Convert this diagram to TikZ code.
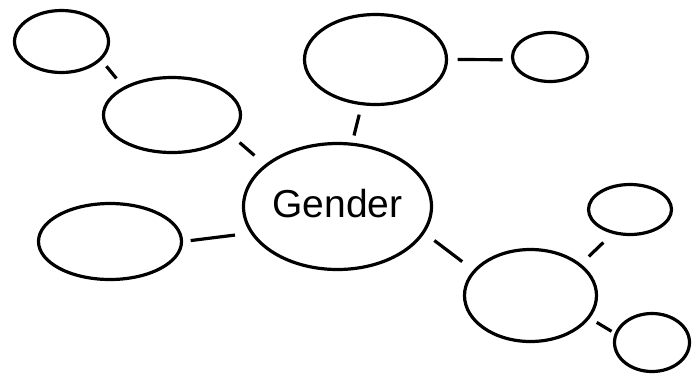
\documentclass[tikz,border=0pt]{standalone}
\usepackage{fontspec}
\setmainfont{Liberation Sans}
\usetikzlibrary{shapes.geometric}

\tikzset{
	bubble/.style={draw, ellipse, line width=3.2pt, inner sep=0pt},
	link/.style={line width=3.2pt}
}

\begin{document}
\begin{tikzpicture}[x=1pt, y=-1pt]
	%%%%% START %%%%%
	\useasboundingbox (0, 0) rectangle (693, 376);

	% the centre
	\node[bubble, minimum width=188pt, minimum height=126pt, font=\fontsize{39}{39}\selectfont, text depth=7pt] (gender) at (337.5, 206.5) {Gender};

	% left branch
	\node[bubble, minimum width=94pt, minimum height=62pt] (leftup) at (61.5, 41.5) {};
	\node[bubble, minimum width=137pt, minimum height=75pt] (leftmid) at (172, 115) {};
	\node[bubble, minimum width=143pt, minimum height=76pt] (leftlow) at (110, 241.5) {};

	% top branch
	\node[bubble, minimum width=142pt, minimum height=90pt] (topmid) at (375.5, 59.5) {};
	\node[bubble, minimum width=75pt, minimum height=49pt] (topright) at (550, 57) {};

	% right branch
	\node[bubble, minimum width=132pt, minimum height=92pt] (rightmid) at (530.5, 295.5) {};
	\node[bubble, minimum width=83pt, minimum height=50pt] (rightup) at (630, 209.5) {};
	\node[bubble, minimum width=75pt, minimum height=58pt] (rightlow) at (652, 342.5) {};

	% links, kept short of the borders
	\draw[link, shorten <=7.9pt, shorten >=10.9pt] (leftup.-25.4) -- (leftmid.150.8);
	\draw[link, shorten <=10.6pt, shorten >=13.8pt] (leftmid.-19) -- (gender.150.75);
	\draw[link, shorten <=7.6pt, shorten >=15.5pt] (leftlow.-0.5) -- (gender.-163.7);
	\draw[link, shorten <=9.7pt, shorten >=7.4pt] (topmid.-107.8) -- (gender.77.6);
	\draw[link, shorten <=9.5pt, shorten >=8.5pt] (topmid.0) -- (topright.184);
	\draw[link, shorten <=12.2pt, shorten >=14pt] (gender.-17.9) -- (rightmid.156.5);
	\draw[link, shorten <=10.8pt, shorten >=12.6pt] (rightmid.32.6) -- (rightup.-126.3);
	\draw[link, shorten <=8pt, shorten >=3.7pt] (rightmid.-21.5) -- (rightlow.166.3);

	%%%%% END %%%%%
\end{tikzpicture}
\end{document}
